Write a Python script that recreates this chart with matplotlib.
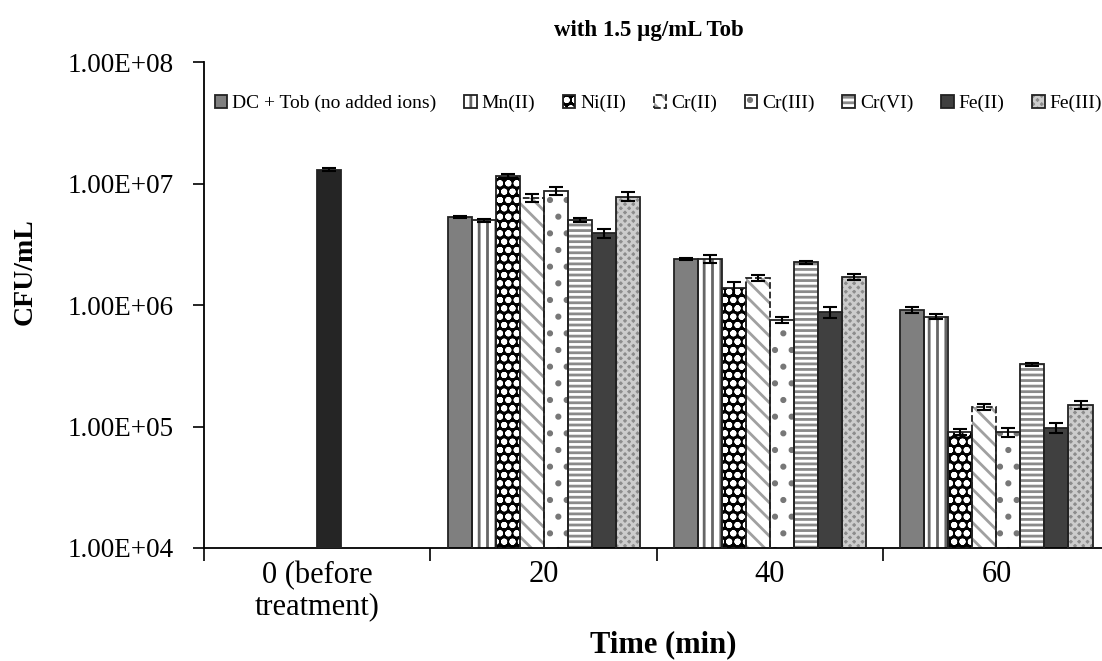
import numpy as np
import matplotlib as mpl
mpl.use('Agg')
from matplotlib import pyplot as plt
from matplotlib.ticker import FixedLocator, NullLocator, FuncFormatter
from matplotlib.legend_handler import HandlerTuple

plt.rcParams['font.family'] = 'Liberation Serif'
plt.rcParams['hatch.linewidth'] = 2.0

# data
categories = ['0 (before\ntreatment)', '20', '40', '60']
before_value = 1.3e7
before_err = 3.7e5

series = ['DC + Tob (no added ions)', 'Mn(II)', 'Ni(II)', 'Cr(II)', 'Cr(III)', 'Cr(VI)', 'Fe(II)', 'Fe(III)']
# CFU/mL at 20, 40, 60 min
dc     = [5.3e6, 2.4e6, 9.1e5]
mn     = [5.0e6, 2.4e6, 8.0e5]
ni     = [1.16e7, 1.37e6, 9.0e4]
cr2    = [7.6e6, 1.68e6, 1.46e5]
cr3    = [8.7e6, 7.5e5, 9.0e4]
cr6    = [5.0e6, 2.25e6, 3.25e5]
fe2    = [3.9e6, 8.8e5, 9.8e4]
fe3    = [7.8e6, 1.7e6, 1.5e5]
dc_err  = [1.0e5, 4.5e4, 5.2e4]
mn_err  = [1.4e5, 1.8e5, 3.8e4]
ni_err  = [4.4e5, 1.9e5, 5.1e3]
cr2_err = [5.8e5, 9.6e4, 8.3e3]
cr3_err = [7.1e5, 4.3e4, 7.7e3]
cr6_err = [1.9e5, 6.4e4, 9.3e3]
fe2_err = [3.4e5, 9.2e4, 9.3e3]
fe3_err = [6.7e5, 9.7e4, 1.1e4]

values = [dc, mn, ni, cr2, cr3, cr6, fe2, fe3]
errors = [dc_err, mn_err, ni_err, cr2_err, cr3_err, cr6_err, fe2_err, fe3_err]

# fill, hatch colour, hatch pattern, outline style
styles = [
    ('#7f7f7f', '#7f7f7f', None, '-'),
    ('white', '#666666', '||', '-'),
    ('black', 'white', 'oo', '-'),
    ('white', '#a0a0a0', '\\\\', '--'),
    ('white', '#777777', '.', '-'),
    ('white', '#8a8a8a', '---', '-'),
    ('#404040', '#404040', None, '-'),
    ('#8c8c8c', '#cccccc', 'xxxx', '-'),
]

fig = plt.figure(figsize=(11.02, 6.61), dpi=100)
ax = fig.add_axes([0.185, 0.171, 0.822, 0.735])

w = 0.106
x = np.arange(len(categories))
handles = []
for i, (vals, errs, st) in enumerate(zip(values, errors, styles)):
    face, hcol, hatch, ls = st
    pos = x[1:] + (i - 3.5) * w
    fill = ax.bar(pos, vals, width=w, color=face, edgecolor=hcol, hatch=hatch,
                  linewidth=0, zorder=2)
    edge = ax.bar(pos, vals, width=w, color='none', edgecolor='#222222',
                  linewidth=1.3, linestyle=ls, zorder=3)
    ax.errorbar(pos, vals, yerr=errs, fmt='none', ecolor='black',
                elinewidth=1.5, capsize=5, capthick=1.5, zorder=4)
    handles.append((fill.patches[0], edge.patches[0]))

# single bar before treatment
b0 = x[0] + 0.5 * w
ax.bar(b0, before_value, width=w, color='#252525', edgecolor='#222222', linewidth=1.3, zorder=3)
ax.errorbar(b0, before_value, yerr=before_err, fmt='none', ecolor='black',
            elinewidth=1.5, capsize=5, capthick=1.5, zorder=4)

ax.set_yscale('log')
ax.set_ylim(1e4, 1e8)
ax.set_xlim(-0.5, len(categories) - 0.5)
ax.yaxis.set_major_locator(FixedLocator([1e4, 1e5, 1e6, 1e7, 1e8]))
ax.yaxis.set_minor_locator(NullLocator())
ax.yaxis.set_major_formatter(FuncFormatter(lambda v, p: '{:.2E}'.format(v)))
ax.set_xticks(x)
ax.set_xticklabels(categories, linespacing=1.12)
ax.set_xticks(np.arange(len(categories) + 1) - 0.5, minor=True)
ax.tick_params(axis='x', which='major', length=0, labelsize=22, pad=9)
ax.tick_params(axis='x', which='minor', length=9, width=1.2, direction='out')
ax.tick_params(axis='y', which='major', length=8, width=1.2, labelsize=19.5, pad=14)
for s in ['top', 'right']:
    ax.spines[s].set_visible(False)
for s in ['left', 'bottom']:
    ax.spines[s].set_linewidth(1.3)

ax.set_ylabel('CFU/mL', fontsize=20, fontweight='bold')
ax.yaxis.set_label_coords(-0.184, 0.568)
ax.set_xlabel('Time (min)', fontsize=22, fontweight='bold')
ax.xaxis.set_label_coords(0.507, -0.17)
ax.set_title('with 1.5 µg/mL Tob', fontsize=16.5, fontweight='bold', pad=19, x=0.491)

ax.legend(handles, series, handler_map={tuple: HandlerTuple(ndivide=1, pad=0)},
          loc='center left', bbox_to_anchor=(0.012, 0.915), ncol=8, frameon=False,
          fontsize=14, handlelength=0.65, handleheight=0.65, handletextpad=0.25,
          columnspacing=1.42, borderaxespad=0.0, borderpad=0.0)

plt.savefig('out.png', dpi=100)
